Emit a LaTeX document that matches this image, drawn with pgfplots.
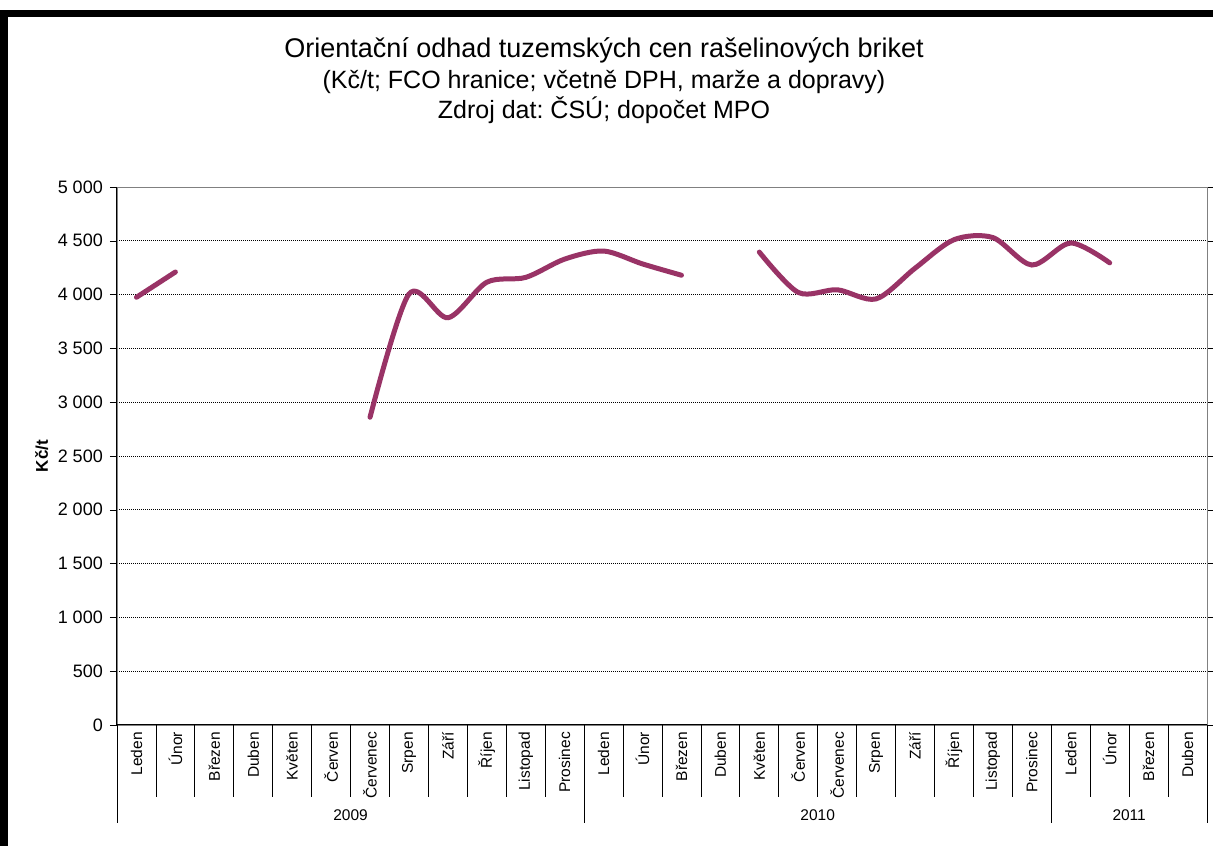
\documentclass[border=0pt]{standalone}
\usepackage{pgfplots}
\pgfplotsset{compat=1.18}
\usepackage{fontspec}
\setmainfont{Liberation Sans}
\frenchspacing
\definecolor{plum}{HTML}{993366}
\pgfplotstableread{
x y
0 3975
1 4210
2 nan
3 nan
4 nan
5 nan
6 2860
7 4005
8 3785
9 4115
10 4160
11 4330
12 4405
13 4285
14 4180
15 nan
16 4395
17 4020
18 4045
19 3960
20 4245
21 4510
22 4530
23 4275
24 4480
25 4295
26 nan
27 nan
}\datatable
\begin{document}
\frenchspacing
\begin{tikzpicture}
\useasboundingbox (0pt,0pt) rectangle (1213pt,846pt);
\fill[white] (0pt,0pt) rectangle (1213pt,846pt);
\draw[line width=7pt] (4pt,-10pt) -- (4pt,832pt) -- (1225pt,832pt);
\node[font=\fontsize{27}{31}\selectfont] at (604pt,796pt) {Orientační odhad tuzemských cen rašelinových briket};
\node[font=\fontsize{25}{29}\selectfont] at (604pt,764pt) {(Kč/t; FCO hranice; včetně DPH, marže a dopravy)};
\node[font=\fontsize{25}{29}\selectfont] at (604pt,736pt) {Zdroj dat: ČSÚ; dopočet MPO};
\begin{axis}[
  at={(117pt,121pt)}, anchor=south west,
  scale only axis, width=1090pt, height=538pt,
  xmin=-0.5, xmax=27.5, ymin=0, ymax=5000,
  xtick={0,...,27},
  xticklabels={Leden,Únor,Březen,Duben,Květen,Červen,Červenec,Srpen,Září,Říjen,Listopad,Prosinec,Leden,Únor,Březen,Duben,Květen,Červen,Červenec,Srpen,Září,Říjen,Listopad,Prosinec,Leden,Únor,Březen,Duben},
  xtick style={draw=none},
  xticklabel style={rotate=90, anchor=east, font=\fontsize{15.5}{18}\selectfont, inner sep=0pt},
  ytick={0,500,...,5000},
  yticklabels={0,500,1 000,1 500,2 000,2 500,3 000,3 500,4 000,4 500,5 000},
  yticklabel style={font=\fontsize{18}{21}\selectfont, inner sep=0pt, xshift=-7pt},
  ytick style={black},
  tick align=outside, major tick length=7pt,
  ymajorgrids, grid style={black, dash pattern=on 1pt off 1pt, line width=0.6pt},
  axis line style={draw=gray},
  ylabel={\textbf{Kč/t}},
  ylabel style={at={(axis description cs:-0.069,0.5)}, anchor=center, font=\fontsize{17}{20}\selectfont},
  /pgf/number format/assume math mode=true,
  unbounded coords=jump,
  clip=false,
]
\draw[black, line width=1pt] (rel axis cs:0,1) -- (rel axis cs:0,0) -- (rel axis cs:1,0);
\addplot[plum, line width=5pt, smooth, line cap=round] table[x=x,y=y] {\datatable};
\end{axis}
\foreach \k in {0,...,28} {
  \draw[black, line width=0.8pt] ({117+\k*38.929pt},121pt) -- ({117+\k*38.929pt},49pt);
}
\foreach \k in {0,12,24,28} {
  \draw[black, line width=0.8pt] ({117+\k*38.929pt},121pt) -- ({117+\k*38.929pt},23pt);
}
\node[font=\fontsize{15.5}{18}\selectfont] at ({117+6*38.929pt},31pt) {2009};
\node[font=\fontsize{15.5}{18}\selectfont] at ({117+18*38.929pt},31pt) {2010};
\node[font=\fontsize{15.5}{18}\selectfont] at ({117+26*38.929pt},31pt) {2011};
\end{tikzpicture}
\end{document}
